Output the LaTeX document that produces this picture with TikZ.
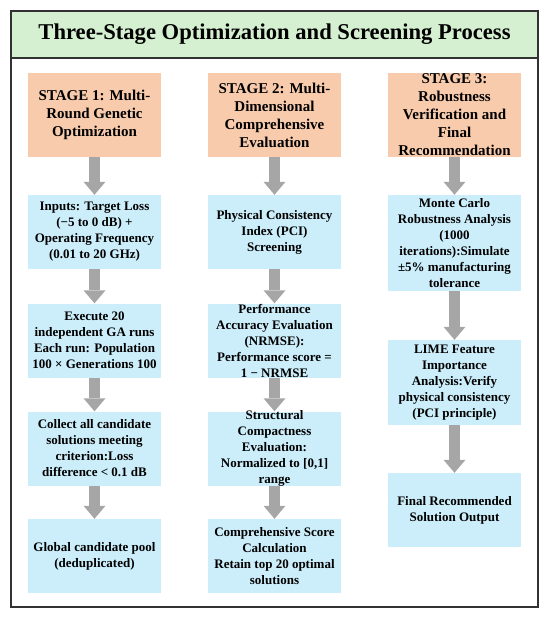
\documentclass[tikz,border=0pt]{standalone}
\usepackage{fontspec}
\setmainfont{Liberation Serif}
\usetikzlibrary{arrows.meta}
\definecolor{hdr}{RGB}{248,203,173}
\definecolor{bx}{RGB}{204,238,250}
\definecolor{ttl}{RGB}{213,240,208}
\definecolor{arr}{RGB}{166,166,166}
\definecolor{frm}{RGB}{50,50,50}
\begin{document}
\begin{tikzpicture}[x=1pt,y=-1pt,
  hdrbox/.style={fill=hdr, minimum width=133pt, minimum height=84pt, align=center,
    font=\fontsize{15}{18}\selectfont\bfseries, inner sep=0pt},
  stepbox/.style={fill=bx, minimum width=133pt, minimum height=74pt, align=center,
    font=\fontsize{13}{16}\selectfont\bfseries, inner sep=0pt},
  flow/.style={draw=arr, line width=11pt, -{Triangle[width=22pt,length=13pt,line width=0pt]}}]
\useasboundingbox (0,0) rectangle (550,618);
\draw[frm, line width=1.5pt] (11,11) rectangle (538,607);
\node[fill=ttl, draw=frm, line width=1.5pt, minimum width=527pt, minimum height=47pt, inner sep=0pt,
  font=\fontsize{22.6}{26}\selectfont\bfseries] (title) at (274.5,34.5) {Three-Stage Optimization and Screening Process};
% column 1
\node[hdrbox] (h1) at (94.5,115) {STAGE 1: Multi-\\Round Genetic\\Optimization};
\node[stepbox] (a1) at (94.5,232) {Inputs: Target Loss\\(−5 to 0 dB) +\\Operating Frequency\\(0.01 to 20 GHz)};
\node[stepbox] (a2) at (94.5,340.5) {Execute 20\\independent GA runs\\Each run: Population\\100 × Generations 100};
\node[stepbox] (a3) at (94.5,448.5) {Collect all candidate\\solutions meeting\\criterion:Loss\\difference < 0.1 dB};
\node[stepbox] (a4) at (94.5,556) {Global candidate pool\\(deduplicated)};
% column 2
\node[hdrbox] (h2) at (274.5,115) {STAGE 2: Multi-\\Dimensional\\Comprehensive\\Evaluation};
\node[stepbox] (b1) at (274.5,232) {Physical Consistency\\Index (PCI)\\Screening};
\node[stepbox, inner ysep=-3pt] (b2) at (274.5,340.5) {Performance\\Accuracy Evaluation\\(NRMSE):\\Performance score =\\1 − NRMSE};
\node[stepbox, inner ysep=-3pt] (b3) at (274.5,448.5) {Structural\\Compactness\\Evaluation:\\Normalized to [0,1]\\range};
\node[stepbox] (b4) at (274.5,556) {Comprehensive Score\\Calculation\\Retain top 20 optimal\\solutions};
% column 3
\node[hdrbox] (h3) at (454.5,115) {STAGE 3:\\Robustness\\Verification and\\Final\\Recommendation};
\node[stepbox, minimum height=96pt] (c1) at (454.5,243) {Monte Carlo\\Robustness Analysis\\(1000\\iterations):Simulate\\±5\% manufacturing\\tolerance};
\node[stepbox, minimum height=85pt] (c2) at (454.5,382.5) {LIME Feature\\Importance\\Analysis:Verify\\physical consistency\\(PCI principle)};
\node[stepbox] (c3) at (454.5,510) {Final Recommended\\Solution Output};
% arrows
\draw[flow] (h1) -- (a1);
\draw[flow] (a1) -- (a2);
\draw[flow] (a2) -- (a3);
\draw[flow] (a3) -- (a4);
\draw[flow] (h2) -- (b1);
\draw[flow] (b1) -- (b2);
\draw[flow] (b2) -- (b3);
\draw[flow] (b3) -- (b4);
\draw[flow] (h3) -- (c1);
\draw[flow] (c1) -- (c2);
\draw[flow] (c2) -- (c3);
\end{tikzpicture}
\end{document}
